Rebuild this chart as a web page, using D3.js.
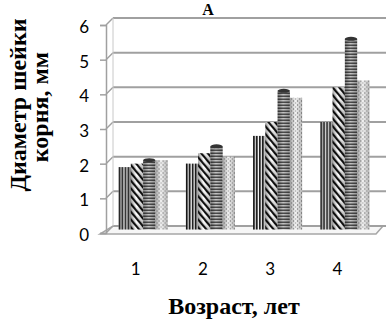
<html>
<head>
<script src="https://d3js.org/d3.v7.min.js"></script>
<style>
  body { margin: 0; background: #fff; }
</style>
</head>
<body>
<div id="chart"></div>
<script>
const categories = ["1", "2", "3", "4"];
const seriesNames = ["s1", "s2", "s3", "s4"];
const s1 = [1.8, 1.9, 2.7, 3.1];
const s2 = [1.9, 2.2, 3.1, 4.1];
const s3 = [2.0, 2.4, 4.0, 5.5];
const s4 = [2.0, 2.1, 3.8, 4.3];
const yTicks = [0, 1, 2, 3, 4, 5, 6];

const W = 386, H = 320;
const depth = 7;   // 3d offset of back wall

const svg = d3.select("#chart").append("svg")
    .attr("width", W).attr("height", H);

const defs = svg.append("defs");
// patterns
let p = defs.append("pattern").attr("id", "pv").attr("patternUnits", "userSpaceOnUse")
    .attr("width", 3).attr("height", 4);
p.append("rect").attr("width", 3).attr("height", 4).attr("fill", "#fff");
p.append("rect").attr("width", 1.6).attr("height", 4).attr("fill", "#111");

p = defs.append("pattern").attr("id", "pd").attr("patternUnits", "userSpaceOnUse")
    .attr("width", 5).attr("height", 5).attr("patternTransform", "rotate(-40)");
p.append("rect").attr("width", 5).attr("height", 5).attr("fill", "#fff");
p.append("rect").attr("width", 2.2).attr("height", 5).attr("fill", "#111");

p = defs.append("pattern").attr("id", "ph").attr("patternUnits", "userSpaceOnUse")
    .attr("width", 4).attr("height", 3);
p.append("rect").attr("width", 4).attr("height", 3).attr("fill", "#fff");
p.append("rect").attr("width", 4).attr("height", 1.5).attr("fill", "#111");

p = defs.append("pattern").attr("id", "pp").attr("patternUnits", "userSpaceOnUse")
    .attr("width", 4).attr("height", 4);
p.append("rect").attr("width", 4).attr("height", 4).attr("fill", "#f2f2f2");
p.append("rect").attr("x", 0).attr("y", 0).attr("width", 1).attr("height", 1).attr("fill", "#555");
p.append("rect").attr("x", 2).attr("y", 2).attr("width", 1).attr("height", 1).attr("fill", "#888");

// cylinder shading
const grad = defs.append("linearGradient").attr("id", "shade");
grad.append("stop").attr("offset", "0").attr("stop-color", "#000").attr("stop-opacity", 0.35);
grad.append("stop").attr("offset", "0.45").attr("stop-color", "#000").attr("stop-opacity", 0);
grad.append("stop").attr("offset", "1").attr("stop-color", "#000").attr("stop-opacity", 0.25);

const fills = ["url(#pv)", "url(#pd)", "url(#ph)", "url(#pp)"];

const x0 = 106, x1 = 375, yBase = 233, yTop = 25;

const x = d3.scaleBand().domain(categories).range([x0, x1])
    .paddingInner(0.27).paddingOuter(0.135);
const xs = d3.scaleBand().domain(seriesNames).range([0, x.bandwidth()]);
const y = d3.scaleLinear().domain([0, 6]).range([yBase, yTop]);

// floor
svg.append("path")
    .attr("d", `M${x0 - 6},${yBase + 1} L${x1 + 1},${yBase + 1} L${x1 + depth + 1},${yBase - depth} L${x0 + depth},${yBase - depth} Z`)
    .attr("fill", "#f6f6f6").attr("stroke", "#a6a6a6").attr("stroke-width", 1.5);

// back wall gridlines and side wall
const grid = svg.append("g");
grid.selectAll("line.g").data(yTicks).enter().append("line")
    .attr("x1", x0 + depth).attr("x2", W)
    .attr("y1", d => y(d) - depth).attr("y2", d => y(d) - depth)
    .attr("stroke", "#a0a0a0").attr("stroke-width", 2);
grid.selectAll("line.s").data(yTicks).enter().append("line")
    .attr("x1", x0).attr("x2", x0 + depth)
    .attr("y1", d => y(d)).attr("y2", d => y(d) - depth)
    .attr("stroke", "#a0a0a0").attr("stroke-width", 1.5);
grid.append("line")
    .attr("x1", x0 + depth).attr("x2", x0 + depth)
    .attr("y1", y(6) - depth).attr("y2", y(0) - depth)
    .attr("stroke", "#c8c8c8").attr("stroke-width", 1);

// bars at mid depth
const half = depth / 2;
const groups = svg.append("g").selectAll("g").data(categories).enter().append("g")
    .attr("transform", d => `translate(${x(d) + half},${-half})`);
const allSeries = [s1, s2, s3, s4];
groups.each(function (c, ci) {
  const g = d3.select(this);
  seriesNames.forEach((s, si) => {
    const v = allSeries[si][ci];
    g.append("rect")
      .attr("x", xs(s)).attr("width", xs.bandwidth())
      .attr("y", y(v)).attr("height", y(0) - y(v))
      .attr("fill", fills[si]);
    g.append("rect")
      .attr("x", xs(s)).attr("width", xs.bandwidth())
      .attr("y", y(v)).attr("height", y(0) - y(v))
      .attr("fill", "url(#shade)");
    if (si === 2) {
      g.append("ellipse")
        .attr("cx", xs(s) + xs.bandwidth() / 2).attr("cy", y(v))
        .attr("rx", xs.bandwidth() / 2).attr("ry", 2)
        .attr("fill", "#333");
    }
  });
});

// front axis
const axis = svg.append("g").attr("transform", `translate(${x0},0)`)
    .call(d3.axisLeft(y).tickValues(yTicks).tickSize(6).tickPadding(11).tickFormat(d3.format("d")));
axis.select(".domain").attr("stroke", "#a0a0a0").attr("stroke-width", 1.5);
axis.selectAll(".tick line").attr("stroke", "#a0a0a0").attr("stroke-width", 1.5);
axis.selectAll("text").attr("font-family", "Lato, 'Open Sans', sans-serif")
    .attr("font-size", 17).attr("fill", "#000").attr("dy", "0.45em");

// category labels
svg.append("g").selectAll("text").data(categories).enter().append("text")
    .attr("x", d => x(d) + x.bandwidth() / 2 - 4).attr("y", 275)
    .attr("text-anchor", "middle")
    .attr("font-family", "Lato, 'Open Sans', sans-serif").attr("font-size", 17)
    .text(d => d);

// titles
svg.append("text").attr("x", 208).attr("y", 15).attr("text-anchor", "middle")
    .attr("font-family", "'Liberation Serif', serif").attr("font-weight", "bold")
    .attr("font-size", 16).text("A");

svg.append("text").attr("x", 234).attr("y", 314).attr("text-anchor", "middle")
    .attr("font-family", "'Liberation Serif', serif").attr("font-weight", "bold")
    .attr("font-size", 24).text("Возраст, лет");

const yt = svg.append("g").attr("font-family", "'Liberation Serif', serif")
    .attr("font-weight", "bold").attr("font-size", 24).attr("text-anchor", "middle");
yt.append("text").attr("transform", "translate(26,105) rotate(-90)").text("Диаметр шейки");
yt.append("text").attr("transform", "translate(48,107) rotate(-90)").text("корня, мм");
</script>
</body>
</html>
